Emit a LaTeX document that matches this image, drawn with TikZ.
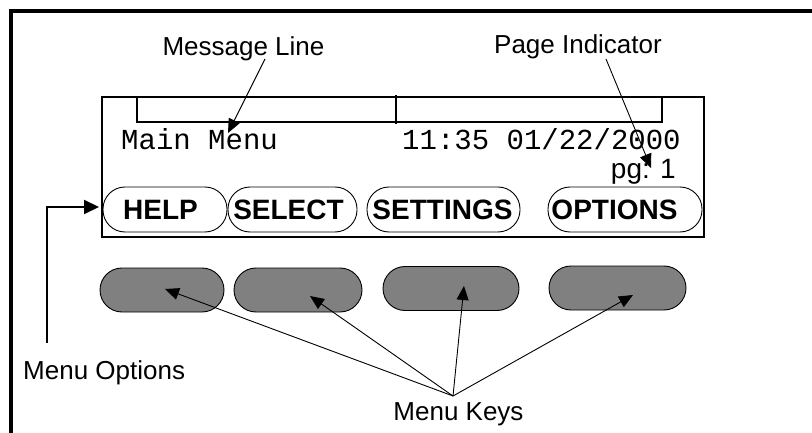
\documentclass[tikz,border=0pt]{standalone}
\usepackage{fontspec}
\setmainfont{Liberation Sans}
\setmonofont{Liberation Mono}
\usetikzlibrary{arrows.meta}
\definecolor{keygray}{HTML}{808080}
\begin{document}
\begin{tikzpicture}[x=1pt,y=-1pt,
  lbl/.style={font=\fontsize{26}{30}\selectfont, inner sep=0},
  btntext/.style={font=\fontsize{28}{32}\selectfont\bfseries, inner sep=0},
  scr/.style={font=\fontsize{29}{33}\selectfont\ttfamily, inner sep=0},
  softkey/.style={draw, line width=0.9pt, rounded corners=22pt, minimum height=45pt, inner sep=0},
  hardkey/.style={draw, fill=keygray, line width=0.9pt, rounded corners=22pt, minimum height=44pt, inner sep=0},
  thinarrow/.style={line width=0.9pt, -{Triangle[length=14pt,width=12pt]}},
  thickarrow/.style={line width=2pt, -{Triangle[length=15pt,width=14pt]}},
  frameline/.style={line width=4pt},
  boxline/.style={line width=2pt}
]
\useasboundingbox (0,0) rectangle (812,433);
% outer frame (top and left)
\draw[frameline] (11,433) -- (11,11) -- (812,11);

% display
\node[draw, boxline, minimum width=602pt, minimum height=140pt, inner sep=0] (display) at (403,167) {};
\draw[boxline] (137,97) rectangle (662,122);
\draw[boxline] (396,95) -- (396,124);

% screen texts
\node[scr, anchor=base west] (mainmenu) at (121,150) {Main Menu};
\node[scr, anchor=base west] (clock) at (402,150) {11:35 01/22/2000};
\node[font=\fontsize{28}{32}\selectfont, inner sep=0, anchor=base east] (pg) at (676,179) {pg: 1};

% soft keys
\node[softkey, minimum width=124pt] (help) at (165,209.5) {};
\node[softkey, minimum width=129pt] (select) at (292.5,209.5) {};
\node[softkey, minimum width=153pt] (settings) at (443.5,209.5) {};
\node[softkey, minimum width=154pt] (options) at (625,209.5) {};
\node[btntext, anchor=base] (helpt) at (160.5,219) {HELP};
\node[btntext, anchor=base] (selectt) at (288.5,219) {SELECT};
\node[btntext, anchor=base] (settingst) at (442.5,219) {SETTINGS};
\node[btntext, anchor=base] (optionst) at (614.5,219) {OPTIONS};

% hard keys
\node[hardkey, minimum width=124pt] (key1) at (162,290) {};
\node[hardkey, minimum width=128pt] (key2) at (298,290) {};
\node[hardkey, minimum width=136pt] (key3) at (451,288.5) {};
\node[hardkey, minimum width=137pt] (key4) at (617.5,288) {};

% labels
\node[lbl, anchor=base] (msgline) at (243.5,56) {Message Line};
\node[lbl, anchor=base] (pageind) at (578,54) {Page Indicator};
\node[lbl, anchor=base west] (menuopt) at (23,379) {Menu Options};
\node[lbl, anchor=base] (menukeys) at (458.5,420) {Menu Keys};

% connectors
\coordinate (msgtail) at (265,59);
\coordinate (msgtip) at (228,133);
\draw[thinarrow] (msgtail) -- (msgtip);

\coordinate (pgtail) at (606,59);
\coordinate (pgtip) at (651,168);
\draw[thinarrow] (pgtail) -- (pgtip);

\coordinate (optstart) at (47,343);
\coordinate (opttip) at (99,207);
\draw[thickarrow] (optstart) |- (opttip);

\coordinate (apex) at (453,396);
\coordinate (tip1) at (165,289);
\coordinate (tip2) at (310,296);
\coordinate (tip3) at (464,286);
\coordinate (tip4) at (633,295);
\draw[thinarrow] (apex) -- (tip1);
\draw[thinarrow] (apex) -- (tip2);
\draw[thinarrow] (apex) -- (tip3);
\draw[thinarrow] (apex) -- (tip4);
\end{tikzpicture}
\end{document}
